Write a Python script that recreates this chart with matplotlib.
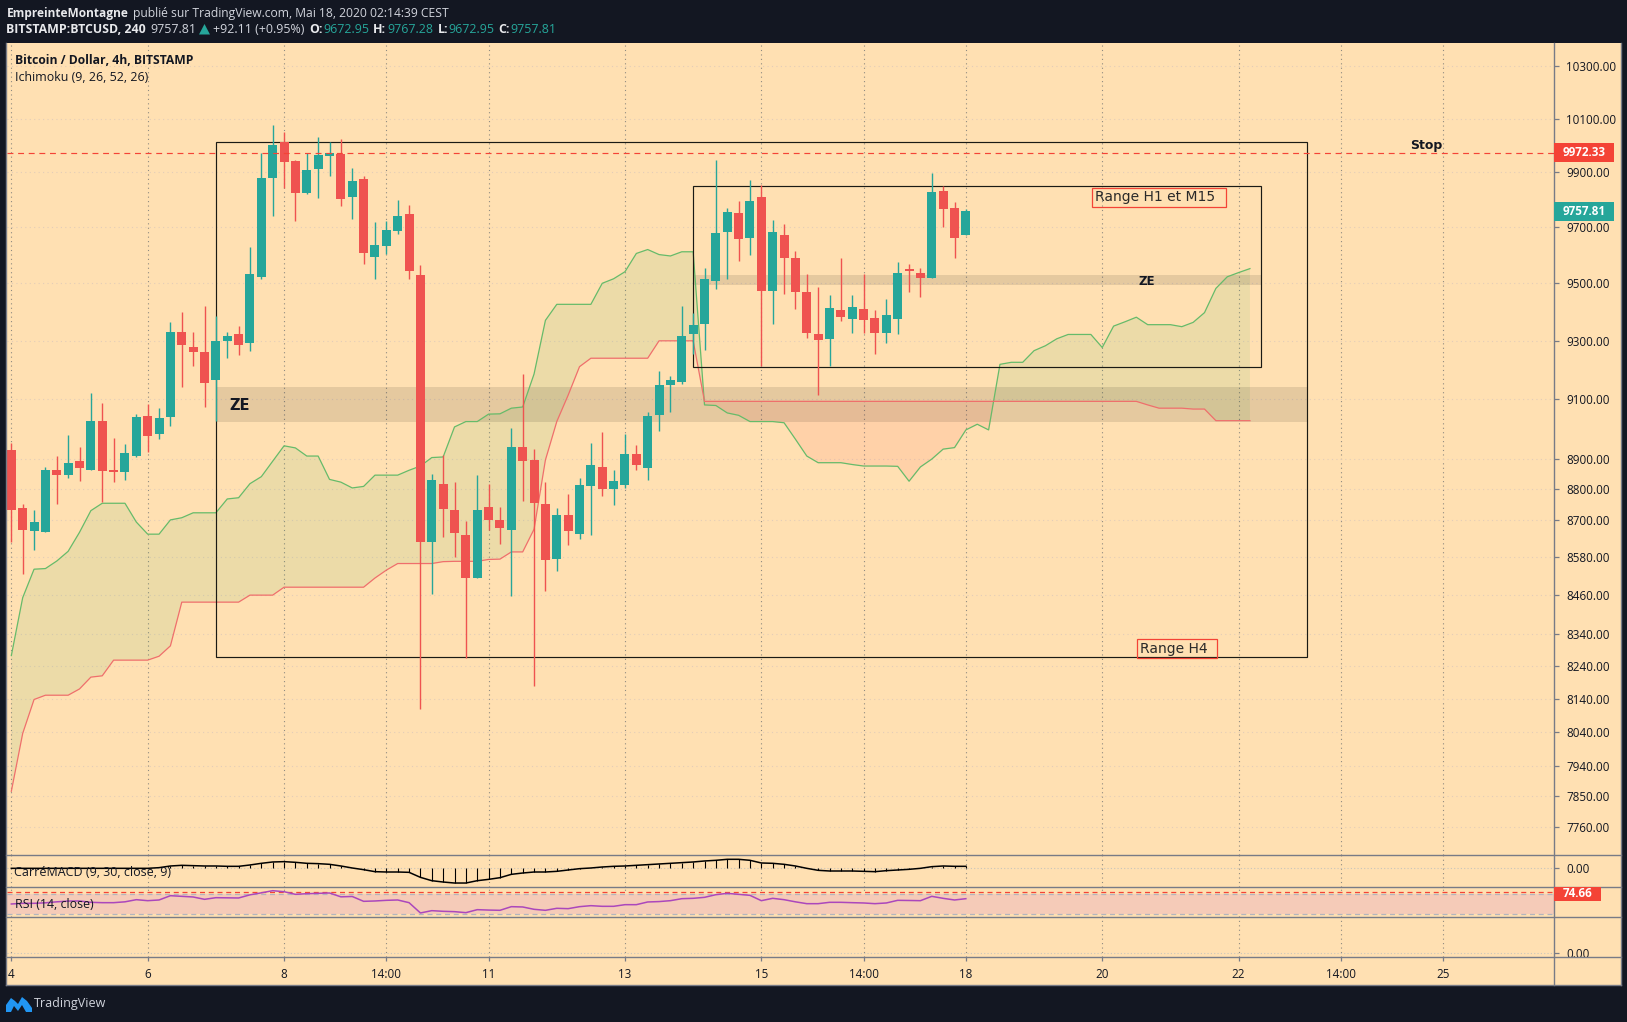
import matplotlib
matplotlib.use("Agg")
import matplotlib.pyplot as plt
import numpy as np
from matplotlib.patches import Rectangle, Polygon
from matplotlib.lines import Line2D
from matplotlib.transforms import Affine2D
from matplotlib.ticker import FixedLocator, FixedFormatter, NullLocator

W, H = 1627, 1022
FONT = "Open Sans"
plt.rcParams["font.family"] = [FONT, "DejaVu Sans"]

# ---------- data ----------
opens = [8928,8739,8663,8660,8864,8846,8891,8863,9025,8862,8855,8908,9041,8983,9039,9328,9279,9260,9163,9297,9322,9291,
         9524,9878,10011,9942,9823,9914,9962,9968,9808,9876,9595,9631,9688,9748,9530,8628,8818,8733,8652,8513,8743,8701,
         8667,8938,8897,8751,8573,8717,8653,8809,8874,8799,8815,8915,8869,9045,9146,9158,9322,9358,9507,9684,9752,9663,
         9810,9474,9671,9590,9470,9322,9305,9405,9376,9409,9378,9326,9376,9552,9537,9520,9831,9770,9672]
closes = [8731,8667,8694,8864,8846,8885,8869,9025,8859,8855,8918,9038,8976,9035,9328,9285,9261,9153,9300,9315,9285,9534,
          9879,10001,9937,9823,9908,9965,9973,9801,9869,9606,9636,9690,9741,9545,8628,8831,8735,8657,8513,8733,8699,8673,
          8938,8892,8756,8570,8717,8663,8812,8881,8799,8828,8915,8879,9044,9148,9166,9315,9353,9515,9680,9756,9659,9795,
          9474,9682,9588,9468,9326,9301,9414,9382,9416,9372,9326,9388,9537,9545,9520,9829,9767,9663,9757.81]
highs = [8953,8751,8733,8873,8908,8978,8938,9122,9085,8968,8948,9048,9083,9068,9364,9399,9328,9420,9385,9328,9350,9629,
         9973,10075,10051,9945,9973,10031,10013,10023,9917,9887,9718,9722,9799,9781,9566,8851,8914,8824,8698,8845,8818,
         8743,9001,9185,8934,8824,8739,8785,8835,8951,8988,8862,8984,8945,9055,9196,9179,9420,9397,9555,9945,9770,9795,
         9872,9852,9727,9711,9616,9534,9488,9459,9590,9459,9534,9405,9445,9577,9570,9555,9897,9849,9792,9767.28]
lows = [8628,8526,8602,8660,8751,8838,8826,8863,8759,8822,8829,8906,8922,8966,9010,9140,9214,9072,9027,9241,9251,9264,
        9516,9742,9841,9724,9819,9805,9885,9778,9731,9567,9516,9603,9677,9514,8109,8464,8644,8582,8266,8513,8667,8621,
        8456,8760,8178,8473,8536,8618,8637,8651,8777,8747,8803,8863,8829,8993,9055,9152,9252,9268,9481,9516,9578,9602,
        9214,9358,9461,9411,9308,9113,9214,9369,9326,9327,9253,9291,9323,9468,9450,9520,9701,9588,9672.95]

span_a = [8272,8452,8542,8544,8568,8599,8660,8730,8754,8754,8754,8693,8654,8654,8700,8707,8723,8723,8723,8768,8772,8818,
          8841,8892,8943,8936,8909,8909,8832,8823,8804,8809,8846,8846,8846,8862,8876,8904,8906,9006,9024,9024,9049,9050,
          9069,9073,9185,9370,9426,9426,9426,9426,9500,9516,9541,9606,9620,9602,9597,9612,9612,9080,9078,9053,9045,9024,
          9024,9024,9020,8965,8909,8887,8887,8887,8881,8876,8876,8876,8875,8826,8873,8899,8932,8937,8996,9015,8996,9218,
          9225,9225,9265,9282,9306,9321,9321,9321,9276,9350,9365,9381,9355,9355,9355,9348,9363,9397,9482,9523,9538,9552]
span_b = [7865,8036,8138,8151,8151,8151,8170,8206,8210,8258,8258,8258,8258,8270,8302,8438,8438,8438,8438,8438,8438,8460,
          8460,8460,8485,8485,8485,8485,8485,8485,8485,8485,8514,8539,8560,8560,8560,8560,8566,8567,8567,8567,8573,8574,
          8597,8597,8670,8896,9024,9113,9210,9239,9239,9239,9239,9239,9239,9299,9299,9299,9299,9092,9092,9092,9092,9092,
          9092,9092,9092,9092,9092,9092,9092,9092,9092,9092,9092,9092,9092,9092,9092,9092,9092,9092,9092,9092,9092,9092,
          9092,9092,9092,9092,9092,9092,9092,9092,9092,9092,9092,9092,9080,9069,9069,9069,9066,9066,9027,9027,9027,9027]

macd_vals = [0,0,0,0,0,0,0,0,0,0,0,0,0,2,7,9,8,7,7,6,6,10,15,19,20,18,15,14,12,7,1,-4,-10,-11,-11,-12,-27,-37,-41,-44,-44,
             -37,-33,-28,-18,-14,-11,-11,-9,-5,-1,1,4,6,7,9,11,13,15,17,19,22,24,27,27,24,16,15,12,7,0,-6,-8,-8,-8,-9,-10,
             -7,-5,-3,0,5,7,6,6]
rsi_vals = [50.7,52,52,53,55,56.5,56.7,54,53.3,53.3,55,59.3,57.3,58.7,67.3,66,64.7,60,63.3,63,62.7,69,73,77.3,75.3,70,71.3,
            72,72.7,65,65.7,56,56.7,58,58.7,53.3,32.7,37.3,36,35.3,33.3,39.3,38.5,38,45.3,44.7,40,38,42,41.3,45.3,47.3,46,
            46,49.3,49.3,54.7,55.5,57.3,61.3,62,64,69.3,72,70,68,57.3,62,59.3,55,51.3,51.3,54,54,53.3,52.7,51.3,52.7,58,
            57.7,57.3,66,62,58.7,61.3]

price_ticks = [7760,7850,7940,8040,8140,8240,8340,8460,8580,8700,8800,8900,9100,9300,9500,9700,9900,10100,10300]
time_idx = [0,12,24,33,42,54,66,75,84,96,108,117,126]
time_labels = ["4","6","8","14:00","11","13","15","14:00","18","20","22","14:00","25"]
stop_price = 9972.33
last_price = 9757.81
rsi_last = 74.66
range_h4 = (18, 114, 8267, 10012)
range_h1 = (60, 110, 9208, 9849)
ze_big = (18, 114, 9022, 9142)
ze_small = (60, 110, 9493, 9531)

# ---------- colours ----------
DARK = "#131722"; BG = "#FFE0B2"; UP = "#26A69A"; DOWN = "#EF5350"; TAG = "#F44336"
GREY = "#787B86"; TXT = "#131722"; VG = "#8F8A80"; HG = "#E3CDB8"

fig = plt.figure(figsize=(W/100, H/100), dpi=100, facecolor=DARK)
px = Affine2D().scale(1/W, -1/H).translate(0, 1) + fig.transFigure

L, R, T, B = 6.5, 1554.4, 42.7, 985.3
XR = 1620.8
Y1, Y2, Y3, Y4 = 855.3, 886.7, 917.3, 956.7
fig.add_artist(Rectangle((L, T), XR-L, B-T, transform=px, fc=BG, ec="none", zorder=-5))

def pane(y0, y1):
    ax = fig.add_axes([L/W, 1-y1/H, (R-L)/W, (y1-y0)/H], facecolor=BG)
    for s in ax.spines.values():
        s.set_visible(False)
    ax.set_xlim(-0.425, 135.79)
    ax.set_xticks(time_idx)
    ax.grid(axis="x", color=VG, lw=0.8, ls=(0, (1, 3)))
    ax.set_axisbelow(True)
    ax.tick_params(axis="x", length=0, labelbottom=False)
    ax.yaxis.tick_right()
    ax.tick_params(axis="y", length=3.5, width=0.9, color=GREY, labelsize=8.4, labelcolor=TXT, pad=5)
    return ax

# ---------- main pane ----------
ax = pane(T, Y1)
ax.set_yscale("log")
ax.set_ylim(7680, 10389)
ax.yaxis.set_major_locator(FixedLocator(price_ticks))
ax.yaxis.set_major_formatter(FixedFormatter([f"{p:.2f}" for p in price_ticks]))
ax.yaxis.set_minor_locator(NullLocator())
ax.grid(axis="y", color=HG, lw=0.8, ls=(0, (1, 3)))

xs = np.arange(len(span_a))
a = np.array(span_a, float); b = np.array(span_b, float)
ax.fill_between(xs, a, b, where=a >= b, interpolate=True, color="#4CAF50", alpha=0.1, lw=0, zorder=2)
ax.fill_between(xs, a, b, where=a <= b, interpolate=True, color="#FF5252", alpha=0.1, lw=0, zorder=2)
ax.plot(xs, a, color="#66BB6A", lw=0.9, zorder=3)
ax.plot(xs, b, color="#EF6F6C", lw=0.9, zorder=3)

for x0, x1, p0, p1 in (ze_big, ze_small):
    ax.add_patch(Rectangle((x0, p0), x1-x0, p1-p0, fc="black", alpha=0.1, ec="none", zorder=2.5))

for x0, x1, p0, p1 in (range_h4, range_h1):
    ax.add_patch(Rectangle((x0, p0), x1-x0, p1-p0, fc="none", ec="#1a1a14", lw=0.85, zorder=3.5))

o = np.array(opens); c = np.array(closes); hi = np.array(highs); lo = np.array(lows)
idx = np.arange(len(o))
cols = [UP if cc >= oo else DOWN for oo, cc in zip(o, c)]
ax.vlines(idx, lo, hi, colors=cols, lw=1.0, zorder=4)
ax.bar(idx, np.abs(c-o), bottom=np.minimum(o, c), width=0.79, color=cols, lw=0, zorder=5)
ax.axhline(stop_price, color=TAG, lw=0.85, ls=(0, (5, 4)), zorder=6)

# ---------- MACD ----------
am = pane(Y1, Y2)
am.set_ylim(-55, 39)
am.set_yticks([0]); am.set_yticklabels(["0.00"])
am.grid(axis="y", color="#C9C5BC", lw=0.8, ls=(0, (1, 2)))
mi = np.arange(len(macd_vals))
am.vlines(mi, 0, macd_vals, colors="black", lw=0.8, zorder=3)
am.plot(mi, macd_vals, color="black", lw=1.1, zorder=4)

# ---------- RSI ----------
ar = pane(Y2, Y3)
ar.set_ylim(24, 85.3)
ar.set_yticks([])
ar.axhspan(30, 70, color="#F5CBB8", lw=0, zorder=1)
ar.axhline(70, color="#B2B5BE", lw=0.9, ls=(0, (4, 3)), zorder=2)
ar.axhline(30, color="#B2B5BE", lw=0.9, ls=(0, (4, 3)), zorder=2)
ar.axhline(rsi_last, color=TAG, lw=0.9, ls=(0, (4, 3)), zorder=2)
ar.plot(np.arange(len(rsi_vals)), rsi_vals, color="#AB47BC", lw=1.1, zorder=3)

# ---------- empty pane + time axis ----------
ae = pane(Y3, Y4)
ae.set_ylim(-1.0, 8.85)
ae.set_yticks([0]); ae.set_yticklabels(["0.00"])
ae.grid(axis="y", color="#C9C5BC", lw=0.8, ls=(0, (1, 2)))
ae.set_xticklabels(time_labels)
ae.tick_params(axis="x", length=3, width=0.9, color=GREY, labelbottom=True, labelsize=8.4, labelcolor=TXT, pad=5)

# ---------- frame lines ----------
for y in (Y1, Y2, Y3, Y4):
    fig.add_artist(Line2D([L, XR], [y, y], transform=px, color=GREY, lw=1.0, zorder=5))
for x, y0, y1 in ((R, T, B), (XR, T, B), (L, T, B)):
    fig.add_artist(Line2D([x, x], [y0, y1], transform=px, color=GREY, lw=1.0, zorder=5))
fig.add_artist(Line2D([L, XR], [B, B], transform=px, color=GREY, lw=1.0, zorder=5))

def t(x, y, s, size=8.6, color=TXT, weight="normal", ha="left", family=None, z=8):
    return fig.text(x, y, s, transform=px, fontsize=size, color=color, fontweight=weight, ha=ha, va="center",
                    family=family or [FONT, "DejaVu Sans"], zorder=z)

# tags
for y0, y1, x1, col, s in ((143, 161.7, 1614, TAG, f"{stop_price:.2f}"), (202, 221, 1614, UP, f"{last_price:.2f}"),
                           (886.7, 901, 1601, TAG, f"{rsi_last:.2f}")):
    fig.add_artist(Rectangle((R, y0), x1-R, y1-y0, transform=px, fc=col, ec="none", zorder=7))
    t(R+8.5, (y0+y1)/2, s, size=8.4, color="white", weight="bold")

# header
t(6.5, 13, "EmpreinteMontagne", size=8.6, color="#E8E9EC", weight="bold")
t(133, 13, "publié sur TradingView.com, Mai 18, 2020 02:14:39 CEST", size=8.7, color="#D1D4DC")
t(6.5, 29.5, "BITSTAMP:BTCUSD, 240", size=8.9, color="#E8E9EC", weight="bold")
t(150, 29.5, "9757.81", size=8.9, color="#D1D4DC")
fig.add_artist(Polygon([(199, 34.5), (210, 34.5), (204.5, 24)], transform=px, fc=UP, ec="none", zorder=8))
t(213, 29.5, "+92.11 (+0.95%)", size=8.9, color="#D1D4DC")
for x, lab, xv, val in ((309, "O:", 323.4, "9672.95"), (373, "H:", 387, "9767.28"),
                        (437.8, "L:", 448, "9672.95"), (498, "C:", 510, "9757.81")):
    t(x, 29.5, lab, size=8.9, color="#E8E9EC", weight="bold")
    t(xv, 29.5, val, size=8.9, color=UP)

# pane legends
t(15.3, 60.5, "Bitcoin / Dollar, 4h, BITSTAMP", size=8.7, weight="bold")
t(15.3, 77.5, "Ichimoku (9, 26, 52, 26)", size=8.9)
t(14.5, 872.5, "CarréMACD (9, 30, close, 9)", size=9)
t(15, 904, "RSI (14, close)", size=8.9)

# drawn labels
t(1426.7, 145, "Stop", size=9, weight="bold", ha="center", family="DejaVu Sans")
t(239.3, 405, "ZE", size=10.5, weight="bold", ha="center", family="DejaVu Sans")
t(1146.8, 281.7, "ZE", size=8.5, weight="bold", ha="center", family="DejaVu Sans")
for (x0, x1, y0, y1, s, xt) in ((1091.6, 1225.6, 187.7, 207.3, "Range H1 et M15", 1094.8),
                                (1137, 1217, 639, 658, "Range H4", 1140)):
    fig.add_artist(Rectangle((x0, y0), x1-x0, y1-y0, transform=px, fc="none", ec=TAG, lw=0.9, zorder=7))
    t(xt, (y0+y1)/2, s, size=10, color="#2a2a2a", family="DejaVu Sans")

# footer
fig.add_artist(Polygon([(6, 1012), (6, 1005), (11, 998), (15, 1001), (18, 1004), (22, 997), (27, 1001), (32, 1008),
                        (32, 1012), (26, 1012), (22, 1005), (18, 1011), (14, 1006), (11, 1012)],
                       transform=px, fc="#2196F3", ec="none", zorder=8))
t(33.8, 1003, "TradingView", size=9, color="#D1D4DC")

fig.savefig("out.png", dpi=100, facecolor=DARK)
